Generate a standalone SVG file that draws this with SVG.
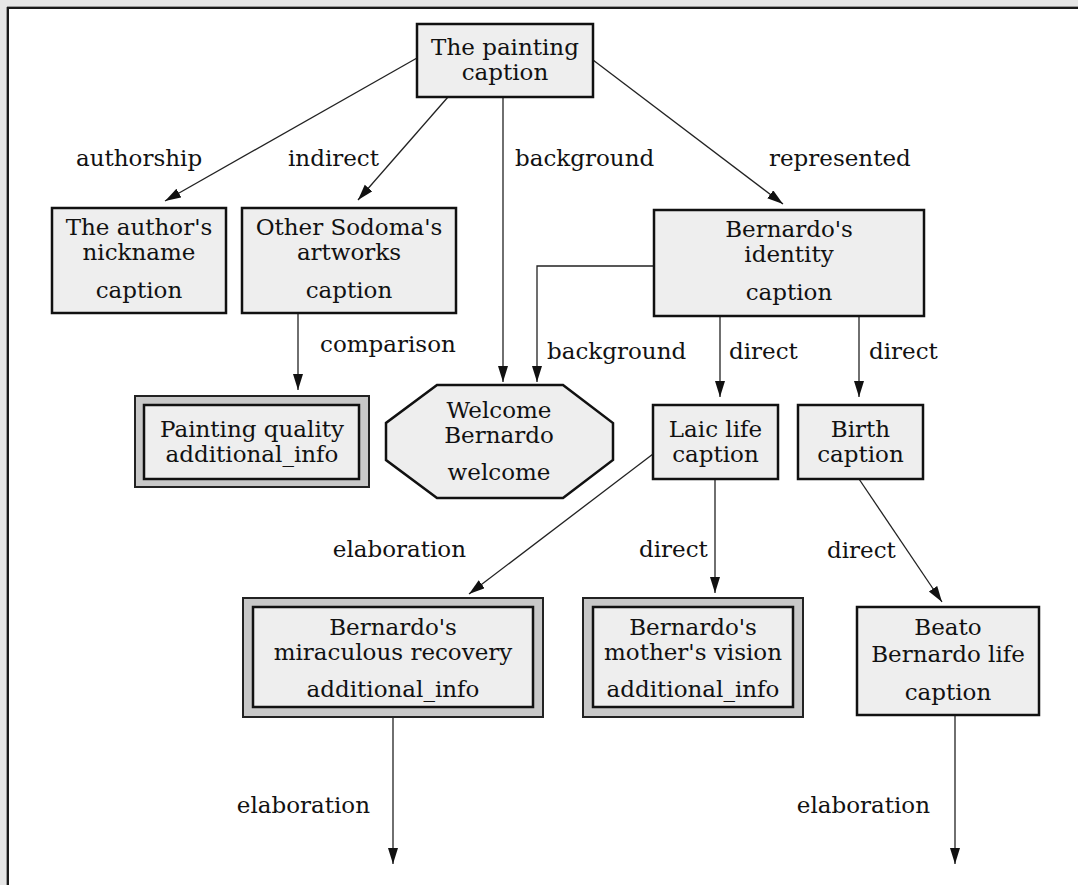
<svg xmlns="http://www.w3.org/2000/svg" width="1078" height="885" viewBox="0 0 1078 885">
<style>
text{font-family:"DejaVu Serif",serif;font-size:23px;fill:#111}
.n{text-anchor:middle}
.box{fill:#eeeeee;stroke:#111;stroke-width:2.5}
.outer{fill:#c8c8c8;stroke:#222;stroke-width:2}
.e{fill:none;stroke:#222;stroke-width:1.3}
.ah{marker-end:url(#arr)}
</style>
<defs>
<marker id="arr" markerUnits="userSpaceOnUse" markerWidth="18" markerHeight="12" refX="16" refY="5" orient="auto">
<path d="M0,0 L16,5 L0,10 z" fill="#111"/>
</marker>
</defs>
<rect x="0" y="0" width="1078" height="885" fill="#e6e6e6"/>
<rect x="8" y="8" width="1100" height="900" fill="#ffffff" stroke="#1a1a1a" stroke-width="2"/>
<line x1="7" y1="6.5" x2="1078" y2="6.5" stroke="#9a9a9a" stroke-width="1"/>
<line x1="6.5" y1="7" x2="6.5" y2="885" stroke="#9a9a9a" stroke-width="1"/>

<g id="connectors">
<path class="e ah" d="M417,58 L165,201"/>
<path class="e ah" d="M448,97 L358,200"/>
<path class="e ah" d="M503,97 L503,382"/>
<path class="e ah" d="M593,60 L783,204"/>
<path class="e ah" d="M298,313 L298,390"/>
<path class="e ah" d="M654,266 L537,266 L537,382"/>
<path class="e ah" d="M720,316 L720,397"/>
<path class="e ah" d="M859,316 L859,397"/>
<path class="e ah" d="M653,454 L469,594"/>
<path class="e ah" d="M715,479 L715,593"/>
<path class="e ah" d="M859,479 L942,602"/>
<path class="e ah" d="M393,717 L393,864"/>
<path class="e ah" d="M955,715 L955,864"/>
<text x="76" y="166">authorship</text>
<text x="288" y="166">indirect</text>
<text x="515" y="166">background</text>
<text x="769" y="166">represented</text>
<text x="320" y="352">comparison</text>
<text x="547" y="359">background</text>
<text x="729" y="359">direct</text>
<text x="869" y="359">direct</text>
<text x="466" y="557" text-anchor="end">elaboration</text>
<text x="639" y="557">direct</text>
<text x="827" y="558">direct</text>
<text x="370" y="813" text-anchor="end">elaboration</text>
<text x="930" y="813" text-anchor="end">elaboration</text>
</g>

<g id="n_painting">
<rect class="box" x="417" y="24" width="176" height="73"/>
<text class="n" x="505" y="55">The painting</text>
<text class="n" x="505" y="80">caption</text>
</g>
<g id="n_author">
<rect class="box" x="52" y="208" width="174" height="105"/>
<text class="n" x="139" y="235">The author's</text>
<text class="n" x="139" y="260">nickname</text>
<text class="n" x="139" y="298">caption</text>
</g>
<g id="n_sodoma">
<rect class="box" x="242" y="208" width="214" height="105"/>
<text class="n" x="349" y="235">Other Sodoma's</text>
<text class="n" x="349" y="260">artworks</text>
<text class="n" x="349" y="298">caption</text>
</g>
<g id="n_quality">
<rect class="outer" x="135" y="396" width="234" height="91"/>
<rect class="box" x="144" y="405" width="215" height="74"/>
<text class="n" x="252" y="437">Painting quality</text>
<text class="n" x="252" y="462">additional_info</text>
</g>
<g id="n_welcome">
<polygon class="box" points="437,385 563,385 613,423 613,460 563,498 437,498 386,460 386,423"/>
<text class="n" x="499" y="418">Welcome</text>
<text class="n" x="499" y="443">Bernardo</text>
<text class="n" x="499" y="480">welcome</text>
</g>
<g id="n_identity">
<rect class="box" x="654" y="210" width="270" height="106"/>
<text class="n" x="789" y="237">Bernardo's</text>
<text class="n" x="789" y="262">identity</text>
<text class="n" x="789" y="300">caption</text>
</g>
<g id="n_laic">
<rect class="box" x="653" y="405" width="125" height="74"/>
<text class="n" x="715.5" y="437">Laic life</text>
<text class="n" x="715.5" y="462">caption</text>
</g>
<g id="n_birth">
<rect class="box" x="798" y="405" width="125" height="74"/>
<text class="n" x="860.5" y="437">Birth</text>
<text class="n" x="860.5" y="462">caption</text>
</g>
<g id="n_recovery">
<rect class="outer" x="243" y="598" width="300" height="119"/>
<rect class="box" x="253" y="607" width="280" height="100"/>
<text class="n" x="393" y="635">Bernardo's</text>
<text class="n" x="393" y="660">miraculous recovery</text>
<text class="n" x="393" y="697">additional_info</text>
</g>
<g id="n_vision">
<rect class="outer" x="583" y="598" width="220" height="119"/>
<rect class="box" x="593" y="607" width="200" height="100"/>
<text class="n" x="693" y="635">Bernardo's</text>
<text class="n" x="693" y="660">mother's vision</text>
<text class="n" x="693" y="697">additional_info</text>
</g>
<g id="n_beato">
<rect class="box" x="857" y="607" width="182" height="108"/>
<text class="n" x="948" y="635">Beato</text>
<text class="n" x="948" y="662">Bernardo life</text>
<text class="n" x="948" y="700">caption</text>
</g>
</svg>
